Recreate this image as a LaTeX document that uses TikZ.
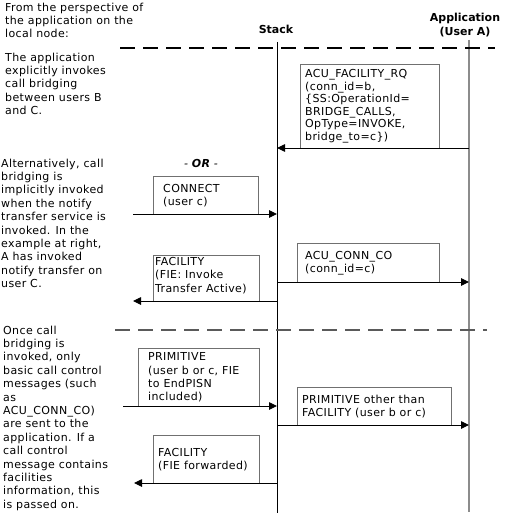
\documentclass[tikz,border=0pt]{standalone}
\usepackage{fontspec}
\setmainfont{DejaVu Sans}[LetterSpace=3.5,BoldFeatures={LetterSpace=0}]
\usetikzlibrary{arrows.meta,positioning}
\definecolor{kutuGri}{HTML}{707070}
\definecolor{hatGri}{HTML}{8C8C8C}
\definecolor{kesikGri}{HTML}{5A5A5A}

\begin{document}
\begin{tikzpicture}[x=1pt,y=-1pt,
  yazi/.style={inner sep=0pt,align=left,font=\fontsize{11}{13.4}\selectfont},
  kutu/.style={draw=kutuGri,line width=0.9pt,inner sep=0pt,anchor=north west},
  ok/.style={-{Triangle[length=8pt,width=7.5pt]},line width=0.9pt},
  kesik/.style={line width=1.3pt,dash pattern=on 15pt off 8pt}]
\useasboundingbox (0,0) rectangle (507,513);
% basliklar ve yasam cizgileri
\node[yazi,font=\fontsize{11}{13.4}\bfseries] (stackBaslik) at (276,29) {Stack};
\node[yazi,align=center,font=\fontsize{11}{13.4}\bfseries] (appBaslik) at (465,25) {Application\\(User A)};
\coordinate (stackUst) at (277,42); \coordinate (stackAlt) at (277,513);
\coordinate (appUst) at (469,40); \coordinate (appAlt) at (469,512);
\draw[line width=0.9pt] (stackUst)--(stackAlt);
\draw[hatGri,line width=1.6pt] (appUst)--(appAlt);
\coordinate (k1b) at (120,48); \coordinate (k1s) at (495,48);
\coordinate (k2b) at (115,330); \coordinate (k2s) at (487,330);
\draw[kesik] (k1b)--(k1s);
\draw[kesik,kesikGri] (k2b)--(k2s);
% sol aciklamalar
\node[yazi,anchor=north west] (not1) at (5,2.6) {From the perspective of\\the application on the\\local node:};
\node[yazi,anchor=north west] (not2) at (5,52.6) {The application\\explicitly invokes\\call bridging\\between users B\\and C.};
\node[yazi,anchor=north west] (not3) at (1,158.6) {Alternatively, call\\bridging is\\implicitly invoked\\when the notify\\transfer service is\\invoked. In the\\example at right,\\A has invoked\\notify transfer on\\user C.};
\node[yazi,anchor=north west] (not4) at (3,325.6) {Once call\\bridging is\\invoked, only\\basic call control\\messages (such\\as\\ACU\_CONN\_CO)\\are sent to the\\application. If a\\call control\\message contains\\facilities\\information, this\\is passed on.};
\node[yazi,font=\fontsize{11}{13.4}\itshape] (veya) at (201,163) {- \textbf{OR} -};
% mesaj kutulari
\node[kutu,minimum width=139pt,minimum height=84pt] (rqKutu) at (300,64) {};
\node[yazi,font=\fontsize{11}{12.5}\selectfont,right=5pt of rqKutu.west] (rqYazi) {ACU\_FACILITY\_RQ\\(conn\_id=b,\\\{SS:OperationId=\\BRIDGE\_CALLS,\\OpType=INVOKE,\\bridge\_to=c\})};
\node[kutu,minimum width=105pt,minimum height=38pt] (conKutu) at (153,176) {};
\node[yazi,right=10pt of conKutu.west] (conYazi) {CONNECT\\(user c)};
\node[kutu,minimum width=106pt,minimum height=46pt] (facKutu) at (153,255) {};
\node[yazi,anchor=north west] (facYazi) at ([xshift=2pt,yshift=-2pt]facKutu.north west) {FACILITY\\(FIE: Invoke\\Transfer Active)};
\node[kutu,minimum width=142pt,minimum height=39pt] (coKutu) at (297,243) {};
\node[yazi,right=8pt of coKutu.west] (coYazi) {ACU\_CONN\_CO\\(conn\_id=c)};
\node[kutu,minimum width=121pt,minimum height=58pt] (primKutu) at (138,348) {};
\node[yazi,right=10pt of primKutu.west] (primYazi) {PRIMITIVE\\(user b or c, FIE\\to EndPISN\\included)};
\node[kutu,minimum width=154pt,minimum height=38pt] (digerKutu) at (297,387) {};
\node[yazi,right=5pt of digerKutu.west] (digerYazi) {PRIMITIVE other than\\FACILITY (user b or c)};
\node[kutu,minimum width=106pt,minimum height=48pt] (ffKutu) at (153,435) {};
\node[yazi,right=5pt of ffKutu.west] (ffYazi) {FACILITY\\(FIE forwarded)};
% oklar
\coordinate (a1) at (469,148); \coordinate (s1) at (277,148);
\coordinate (u2) at (133,214); \coordinate (s2) at (277,214);
\coordinate (s3) at (277,301); \coordinate (u3) at (133,301);
\coordinate (s4) at (277,282); \coordinate (a4) at (469,282);
\coordinate (u5) at (123,406); \coordinate (s5) at (277,406);
\coordinate (s6) at (277,425); \coordinate (a6) at (469,425);
\coordinate (s7) at (277,483); \coordinate (u7) at (134,483);
\draw[ok] (a1)--(s1);
\draw[ok] (u2)--(s2);
\draw[ok] (s3)--(u3);
\draw[ok] (s4)--(a4);
\draw[ok] (u5)--(s5);
\draw[ok] (s6)--(a6);
\draw[ok] (s7)--(u7);
\end{tikzpicture}
\end{document}
